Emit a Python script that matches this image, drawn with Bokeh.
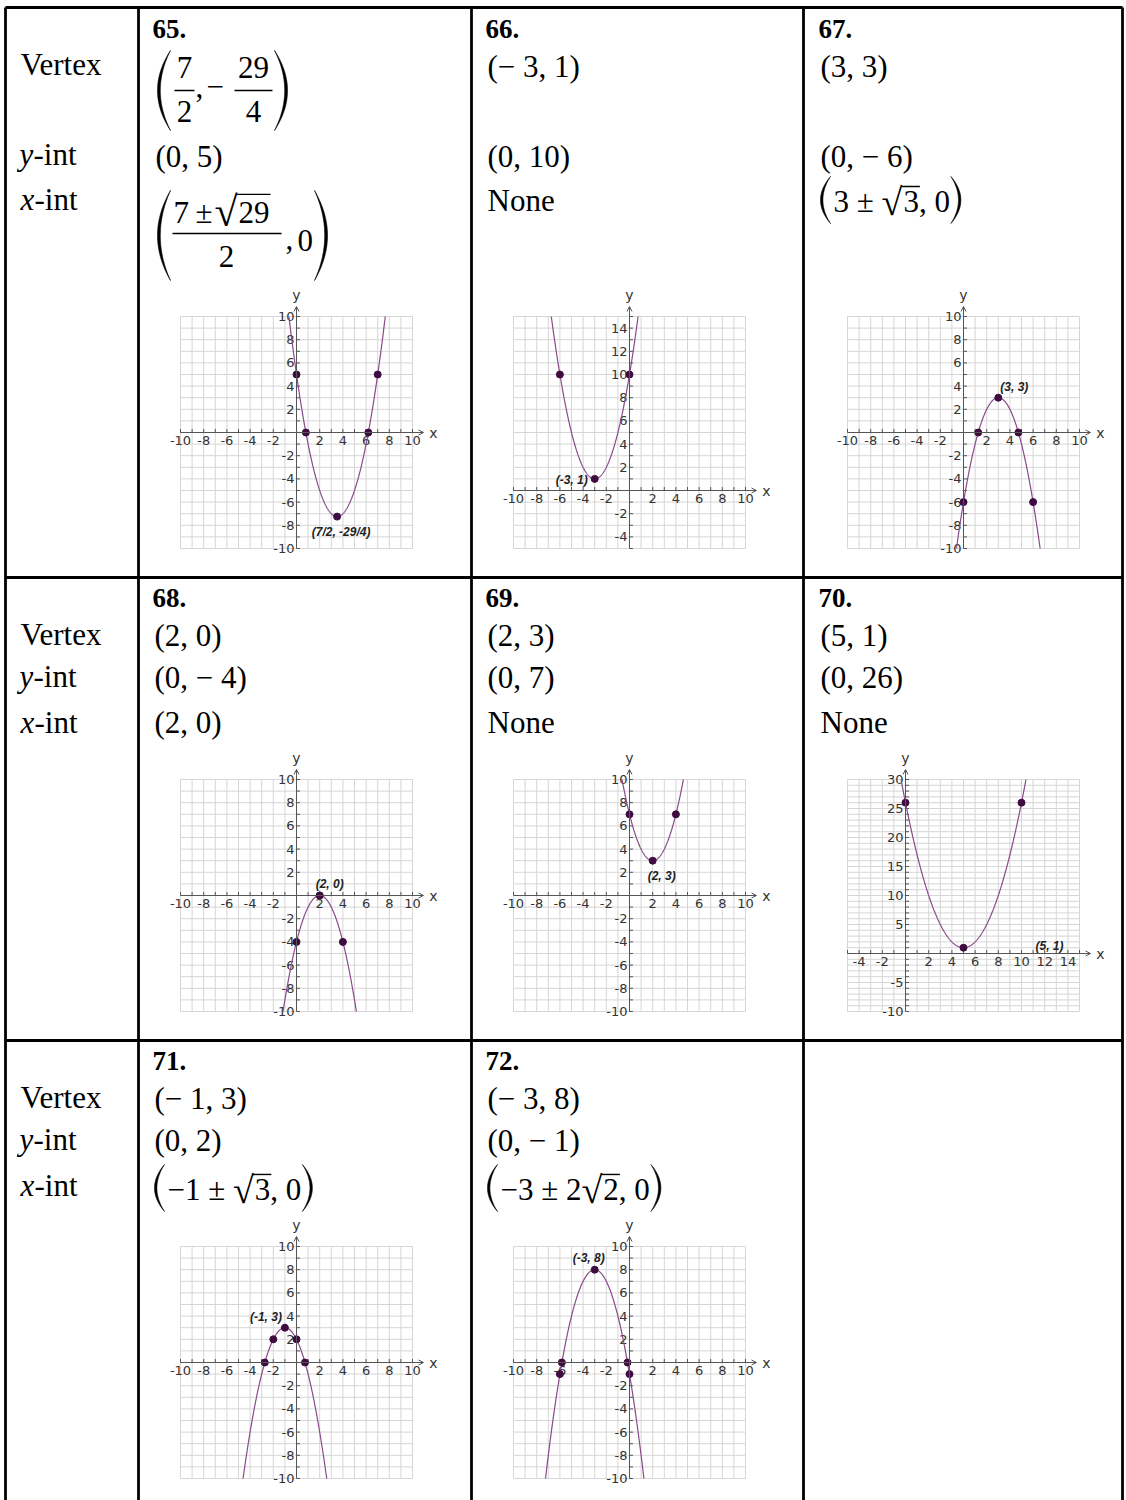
import numpy as np
from bokeh.plotting import figure
from bokeh.models import Range1d, Arrow, OpenHead
from bokeh.core.properties import value
from bokeh.embed import file_html
from bokeh.resources import INLINE

PAGE_W, PAGE_H = 1126, 1500
SERIF = "Liberation Serif"
SANS = "Liberation Sans"
TICK_FONT = "DejaVu Sans"

# ---------------- data ----------------
problem_ids = ["65.", "66.", "67.", "68.", "69.", "70.", "71.", "72."]
# each parabola is y = a (x - h)^2 + k
vertex_h = [7 / 2, -3, 3, 2, 2, 5, -1, -3]
vertex_k = [-29 / 4, 1, 3, 0, 3, 1, 3, 8]
lead_a = [1, 1, -1, -1, 1, 1, -1, -1]
y_intercept = [5, 10, -6, -4, 7, 26, 2, -1]
x_intercepts = [
    [(7 - 29 ** 0.5) / 2, (7 + 29 ** 0.5) / 2],
    [],
    [3 - 3 ** 0.5, 3 + 3 ** 0.5],
    [2],
    [],
    [],
    [-1 - 3 ** 0.5, -1 + 3 ** 0.5],
    [-3 - 2 * 2 ** 0.5, -3 + 2 * 2 ** 0.5],
]
# partner of the y-intercept across the axis of symmetry
mirror_x = [7, -6, 6, 4, 4, 10, -2, -6]
vertex_tags = ["(7/2, -29/4)", "(-3, 1)", "(3, 3)", "(2, 0)", "(2, 3)", "(5, 1)", "(-1, 3)", "(-3, 8)"]

vertex_answer = [None, "(\u2212 3, 1)", "(3, 3)", "(2, 0)", "(2, 3)", "(5, 1)", "(\u2212 1, 3)", "(\u2212 3, 8)"]
yint_answer = ["(0, 5)", "(0, 10)", "(0, \u2212 6)", "(0, \u2212 4)", "(0, 7)", "(0, 26)", "(0, 2)", "(0, \u2212 1)"]
# plain answers, or (before radical, radicand, after radical)
xint_answer = [None, "None", ("3 \u00b1 ", "3", ", 0"), "(2, 0)", "None", "None",
               ("\u22121 \u00b1 ", "3", ", 0"), ("\u22123 \u00b1 2", "2", ", 0")]

x_window = [(-10, 10), (-10, 10), (-10, 10), (-10, 10), (-10, 10), (-5, 15), (-10, 10), (-10, 10)]
y_window = [(-10, 10), (-5, 15), (-10, 10), (-10, 10), (-10, 10), (-10, 30), (-10, 10), (-10, 10)]
X_LABELS_STD = [-10, -8, -6, -4, -2, 2, 4, 6, 8, 10]
Y_LABELS_STD = [-10, -8, -6, -4, -2, 2, 4, 6, 8, 10]
x_tick_labels = [X_LABELS_STD] * 5 + [[-4, -2, 2, 4, 6, 8, 10, 12, 14]] + [X_LABELS_STD] * 2
y_tick_labels = [Y_LABELS_STD, [-4, -2, 2, 4, 6, 8, 10, 12, 14], Y_LABELS_STD, Y_LABELS_STD,
                 Y_LABELS_STD, [-10, -5, 5, 10, 15, 20, 25, 30], Y_LABELS_STD, Y_LABELS_STD]

row_labels = ["Vertex", "y", "x"]

# ---------------- page geometry ----------------
COL_LINES = [5, 138, 471, 803, 1122]
ROW_LINES = [7, 577, 1040]
CELL_X = [152, 485, 818]
NUM_BASE = [38, 607, 1070]
VERT_BASE = [77, 646, 1109]
YINT_BASE = [167, 688, 1151]
XINT_BASE = [211, 733, 1199]
LAB_VERT = [75, 645, 1108]
LAB_YINT = [165, 687, 1150]
LAB_XINT = [210, 733, 1196]
GRAPH_LEFT = [180, 513, 847]
GRAPH_TOP = [316, 779, 1246]
GRAPH_SIZE = 232

# tag placement: (dx, dy, align, baseline) in screen pixels
tag_place = [
    (4, 8, "center", "top"),
    (-7, 1, "right", "middle"),
    (2, -4, "left", "bottom"),
    (-4, -5, "left", "bottom"),
    (-5, 8, "left", "top"),
    (72, -2, "left", "middle"),
    (-3, -4, "right", "bottom"),
    (-6, -5, "center", "bottom"),
]

GRID_COLOR = "#d6d6d6"
AXIS_COLOR = "#555555"
CURVE_COLOR = "#8a4a8a"
POINT_COLOR = "#3e0c40"
MATH = 31
ROOT = 38
# the renderer places an "alphabetic" anchor this many ems above the glyph baseline
BASE_SHIFT = 0.35
ROOT_TOP = 0.78  # height of the radical sign above its baseline, in ems

METRIC = {"(": 0.333, ")": 0.333, ",": 0.25, " ": 0.25, "\u2212": 0.564, "\u00b1": 0.549,
          "\u221a": 0.549}


def tw(s, size=MATH):
    return sum(METRIC.get(c, 0.5) for c in s) * size


p = figure(width=PAGE_W, height=PAGE_H, x_range=Range1d(0, PAGE_W), y_range=Range1d(PAGE_H, 0),
           output_backend="svg", toolbar_location=None, min_border=0,
           x_axis_location=None, y_axis_location=None)
p.outline_line_color = None
p.background_fill_color = "white"
p.border_fill_color = "white"
p.xgrid.grid_line_color = None
p.ygrid.grid_line_color = None


def txt(x, y, s, size=MATH, style="normal", align="left", font=SERIF):
    """Text whose glyph baseline sits at y."""
    p.text(x=[x], y=[y - BASE_SHIFT * size], text=[s], text_font=value(font),
           text_font_size=f"{size}px", text_font_style=style, text_align=align,
           text_baseline="alphabetic", text_color="black")


def seg(x0, y0, x1, y1, width=1.6):
    p.segment(x0=[x0], y0=[y0], x1=[x1], y1=[y1], line_color="black", line_width=width)


def paren(x, top, bottom, side, w=13, thick=2.8):
    """Tall delimiter drawn as a crescent."""
    t = np.linspace(0, 1, 40)
    mid = (top + bottom) / 2
    if side == "left":
        end_x, bulge_o, bulge_i = x + w, x, x + thick
    else:
        end_x, bulge_o, bulge_i = x, x + w, x + w - thick
    ys = (1 - t) ** 2 * top + 2 * (1 - t) * t * mid + t ** 2 * bottom
    ctrl_o = 2 * bulge_o - end_x
    ctrl_i = 2 * bulge_i - end_x
    xo = (1 - t) ** 2 * end_x + 2 * (1 - t) * t * ctrl_o + t ** 2 * end_x
    xi = (1 - t) ** 2 * end_x + 2 * (1 - t) * t * ctrl_i + t ** 2 * end_x
    p.patch(np.concatenate([xo, xi[::-1]]), np.concatenate([ys, ys[::-1]]),
            fill_color="black", line_color="black", line_width=0.6)


def radical(x, base, radicand, size=ROOT, drop=3):
    """Radical sign followed by its radicand under a vinculum; returns the end x."""
    txt(x, base + drop, "\u221a", size=size)
    xr = x + tw("\u221a", size)
    bar_y = base + drop - ROOT_TOP * size + 0.6
    seg(xr - 1, bar_y, xr + tw(radicand) + 2, bar_y, width=1.4)
    txt(xr + 1, base, radicand)
    return xr + 1 + tw(radicand)


# ---------------- table rules ----------------
for cx in COL_LINES:
    seg(cx, ROW_LINES[0], cx, PAGE_H, width=2.8)
for ry in ROW_LINES:
    seg(COL_LINES[0], ry, COL_LINES[-1], ry, width=2.8)

# ---------------- row headings ----------------
for r in range(3):
    txt(20, LAB_VERT[r], row_labels[0], size=31)
    txt(19, LAB_YINT[r], row_labels[1], size=31, style="italic")
    txt(33, LAB_YINT[r], "-int", size=31)
    txt(20, LAB_XINT[r], row_labels[2], size=31, style="italic")
    txt(34, LAB_XINT[r], "-int", size=31)


def root_expr(x0, base, pre, rad, post):
    top, bot = base - 36, base + 11
    paren(x0, top, bot, "left", w=10, thick=2.4)
    x = x0 + 13
    txt(x, base, pre)
    x = radical(x + tw(pre), base, rad)
    txt(x, base, post)
    x += tw(post)
    paren(x + 1, top, bot, "right", w=10, thick=2.4)


# ---------------- answers ----------------
for i, pid in enumerate(problem_ids):
    r, c = divmod(i, 3)
    x0 = CELL_X[c]
    txt(x0, NUM_BASE[r], pid, size=27, style="bold")
    if vertex_answer[i] is not None:
        txt(x0 + 2, VERT_BASE[r], vertex_answer[i])
    if i != 0:
        txt(x0 + 2, YINT_BASE[r], yint_answer[i])
    a = xint_answer[i]
    if isinstance(a, tuple):
        root_expr(x0 + 2, XINT_BASE[r] + 1, *a)
    elif a is not None:
        txt(x0 + 2, XINT_BASE[r], a)

# problem 65: fractional vertex and x-intercepts
paren(157, 50, 130, "left")
txt(184, 78, "7", align="center")
seg(174, 90, 194, 90)
txt(184, 122, "2", align="center")
txt(195, 97, ",")
txt(206, 97, "\u2212")
txt(253, 78, "29", align="center")
seg(234, 90, 272, 90)
txt(253, 122, "4", align="center")
paren(274, 50, 130, "right")

txt(155, 167, yint_answer[0])

paren(157, 190, 280, "left")
txt(173, 223, "7")
txt(195, 223, "\u00b1")
radical(214, 223, "29", size=42, drop=3)
seg(172, 233, 281, 233)
txt(226, 267, "2", align="center")
txt(285, 249, ",")
txt(297, 251, "0")
paren(314, 190, 280, "right")


# ---------------- graphs ----------------
def draw_graph(i):
    r, c = divmod(i, 3)
    left, top = GRAPH_LEFT[c], GRAPH_TOP[r]
    (x0, x1), (y0, y1) = x_window[i], y_window[i]
    ppx = GRAPH_SIZE / (x1 - x0)
    ppy = GRAPH_SIZE / (y1 - y0)
    name = f"g{i}"
    p.extra_x_ranges[name] = Range1d(x0 - left / ppx, x0 + (PAGE_W - left) / ppx)
    p.extra_y_ranges[name] = Range1d(y1 - (PAGE_H - top) / ppy, y1 + top / ppy)
    kw = dict(x_range_name=name, y_range_name=name)

    gx = np.arange(x0, x1 + 1)
    gy = np.arange(y0, y1 + 1)
    p.segment(x0=gx, y0=y0, x1=gx, y1=y1, line_color=GRID_COLOR, line_width=1, **kw)
    p.segment(x0=x0, y0=gy, x1=x1, y1=gy, line_color=GRID_COLOR, line_width=1, **kw)

    # axes with open arrow heads
    p.add_layout(Arrow(end=OpenHead(size=5, line_color=AXIS_COLOR, line_width=1),
                       x_start=x0, y_start=0, x_end=x1 + 11 / ppx, y_end=0,
                       line_color=AXIS_COLOR, line_width=1, **kw))
    p.add_layout(Arrow(end=OpenHead(size=5, line_color=AXIS_COLOR, line_width=1),
                       x_start=0, y_start=y0, x_end=0, y_end=y1 + 10 / ppy,
                       line_color=AXIS_COLOR, line_width=1, **kw))
    p.segment(x0=gx, y0=0, x1=gx, y1=3.5 / ppy, line_color=AXIS_COLOR, line_width=1, **kw)
    p.segment(x0=0, y0=gy, x1=3.5 / ppx, y1=gy, line_color=AXIS_COLOR, line_width=1, **kw)

    xl = x_tick_labels[i]
    p.text(x=xl, y=0, text=[str(v) for v in xl], text_align="center", text_baseline="top",
           y_offset=3, text_font=value(TICK_FONT), text_font_size="13px", text_color="#333333", **kw)
    yl = y_tick_labels[i]
    p.text(x=0, y=yl, text=[str(v) for v in yl], text_align="right", text_baseline="middle",
           x_offset=-2, text_font=value(TICK_FONT), text_font_size="13px", text_color="#333333", **kw)
    p.text(x=[x1 + 21 / ppx], y=[0], text=["x"], text_align="center", text_baseline="middle",
           text_font=value(TICK_FONT), text_font_size="14px", text_color="#333333", **kw)
    p.text(x=[0], y=[y1 + 14 / ppy], text=["y"], text_align="center", text_baseline="bottom",
           text_font=value(TICK_FONT), text_font_size="14px", text_color="#333333", **kw)

    # parabola, kept inside the window
    a, h, k = lead_a[i], vertex_h[i], vertex_k[i]
    reach = np.sqrt((y1 - k) / a) if a > 0 else np.sqrt((k - y0) / -a)
    lo, hi = max(x0, h - reach), min(x1, h + reach)
    xs = np.linspace(lo, hi, 400)
    ys = a * (xs - h) ** 2 + k
    p.line(xs, ys, line_color=CURVE_COLOR, line_width=1.2, **kw)

    px = [h, 0, mirror_x[i]] + list(x_intercepts[i])
    py = [k, y_intercept[i], y_intercept[i]] + [0] * len(x_intercepts[i])
    p.scatter(px, py, size=7, fill_color=POINT_COLOR, line_color=POINT_COLOR, **kw)

    dx, dy, al, bl = tag_place[i]
    p.text(x=[h], y=[k], text=[vertex_tags[i]], x_offset=dx, y_offset=dy, text_align=al,
           text_baseline=bl, text_font=value(SANS), text_font_style="bold italic",
           text_font_size="12px", text_color="#222222", **kw)


for i in range(len(problem_ids)):
    draw_graph(i)

open("out.html", "w").write(file_html(p, INLINE))
